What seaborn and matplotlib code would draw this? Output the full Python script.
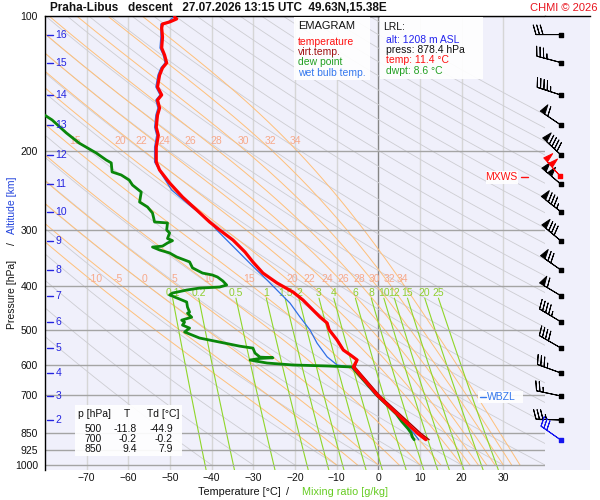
import numpy as np
import matplotlib
matplotlib.use("Agg")
import matplotlib.pyplot as plt
from matplotlib.patches import Rectangle
from matplotlib.lines import Line2D
from matplotlib.ticker import FixedLocator, NullLocator
import seaborn as sns

# sounding: pressure [hPa], temperature [C]
temp_p = [100.5, 101.5, 103.1, 104.2, 106.3, 111.4, 117.8, 122.2, 127.2, 130.5, 135.4, 143.9,
          149.9, 153.9, 160.3, 166.2, 176.9, 184.4, 195.9, 200.9, 211.4, 220.3, 235.4, 253.0,
          270.4, 287.6, 299.6, 315.4, 335.5, 353.1, 373.7, 393.3, 411.8, 429.0, 451.6, 468.2,
          482.8, 500.0, 526.9, 554.6, 568.8, 583.6, 604.9, 700.0, 850.0, 878.4]
temp_t = [-48.9, -48.4, -50.1, -51.8, -52.0, -51.8, -52.0, -51.3, -50.8, -51.8, -52.5, -53.0,
          -52.0, -53.0, -52.5, -53.0, -53.3, -52.8, -53.3, -53.3, -53.3, -52.5, -50.1, -47.0,
          -43.6, -40.5, -38.1, -34.9, -32.0, -30.1, -27.7, -24.3, -20.5, -18.1, -15.7, -14.0,
          -12.3, -11.8, -9.9, -8.4, -6.7, -5.1, -6.0, -0.2, 9.4, 11.4]

virt_p = [411.8, 429.0, 451.6, 468.2, 482.8, 500.0, 526.9, 554.6, 568.8, 583.6, 604.9, 700.0, 850.0, 878.4]
virt_t = [-20.4, -18.0, -15.6, -13.9, -12.2, -11.7, -9.8, -8.3, -6.6, -5.0, -5.6, 0.3, 10.2, 12.2]

dwpt_p = [162.0, 170.4, 182.1, 191.9, 201.9, 209.3, 212.4, 222.5, 226.0, 231.9, 238.0, 246.7,
          259.6, 266.3, 274.6, 287.6, 289.0, 299.6, 304.3, 313.0, 316.5, 320.3, 325.5, 327.0,
          332.0, 337.1, 344.1, 352.9, 363.9, 373.7, 377.5, 381.4, 389.3, 397.4, 401.5, 403.6,
          407.7, 411.8, 414.0, 418.2, 422.5, 433.5, 445.0, 456.7, 459.1, 468.6, 475.8, 480.6,
          488.0, 495.6, 505.6, 521.5, 532.4, 543.6, 549.1, 563.3, 575.1, 577.0, 579.0, 583.8,
          592.8, 598.8, 601.8, 604.9, 620.0, 700.0, 770.0, 800.0, 830.0, 850.0, 865.0, 878.4]
dwpt_t = [-82.0, -78.3, -74.9, -71.8, -67.7, -65.3, -64.1, -63.9, -61.7, -59.8, -59.0, -56.9,
          -57.3, -55.4, -54.2, -53.7, -50.6, -50.8, -50.1, -50.6, -49.4, -50.6, -51.8, -54.2,
          -52.5, -50.1, -48.4, -45.3, -44.6, -42.2, -39.8, -38.6, -37.3, -36.4, -38.1, -42.9,
          -46.0, -48.2, -49.4, -50.1, -48.9, -46.0, -45.8, -45.3, -45.8, -44.8, -47.2, -46.5,
          -47.0, -45.3, -46.5, -42.9, -38.1, -33.3, -30.1, -29.6, -28.4, -25.3, -28.4, -30.8,
          -26.7, -20.5, -12.3, -6.2, -5.3, -0.3, 4.3, 5.6, 7.1, 7.9, 8.1, 8.6]

wetb_p = [100.5, 103.1, 104.2, 111.4, 117.8, 122.2, 127.2, 130.5, 135.4, 143.9, 149.9, 153.9,
          160.3, 166.2, 176.9, 184.4, 195.9, 200.9, 211.4, 223.7, 244.1, 266.3, 284.6, 299.6,
          315.4, 332.0, 349.6, 367.9, 387.4, 414.2, 435.9, 468.2, 500.4, 535.4, 574.2, 598.8,
          604.9, 620.0, 700.0, 770.0, 800.0, 830.0, 850.0, 878.4]
wetb_t = [-49.2, -50.4, -52.2, -52.2, -52.4, -51.6, -51.2, -52.2, -52.9, -53.4, -52.4, -53.4,
          -52.9, -53.4, -53.7, -53.2, -53.7, -53.7, -53.7, -52.2, -49.6, -44.8, -40.8, -38.8,
          -36.4, -34.0, -31.6, -29.2, -26.7, -23.6, -21.2, -18.8, -16.4, -14.7, -12.3, -9.9,
          -6.6, -5.5, -0.6, 4.4, 5.9, 7.5, 8.5, 9.7]

# altitude marks [km] and the pressure they sit at
alt_km = [16, 15, 14, 13, 12, 11, 10, 9, 8, 7, 6, 5, 4, 3, 2]
alt_p = [110, 127, 150, 175, 204, 237, 273, 317, 368, 420, 480, 549, 624, 702, 794]

# winds at the altitude marks (direction deg, speed kt)
wind_dir = [270, 285, 288, 304, 313, 310, 308, 310, 305, 301, 301, 300, 290, 282, 272]
wind_spd = [30, 35, 45, 60, 90, 100, 85, 80, 70, 60, 45, 40, 35, 25, 35]
mxws_p, mxws_dir, mxws_spd = 227, 318, 100
lrl_p, lrl_dir, lrl_spd = 878.4, 305, 30

p_levels = [100, 200, 300, 400, 500, 600, 700, 850, 925, 1000]
t_ticks = [-70, -60, -50, -40, -30, -20, -10, 0, 10, 20, 30]
thw_lines = [-10, -5, 0, 5, 10, 15, 20, 22, 24, 26, 28, 30, 32, 34]
thw_upper = [15, 20, 22, 24, 26, 28, 30, 32, 34]
mix_lines = [0.1, 0.2, 0.5, 1, 1.5, 2, 3, 4, 6, 8, 10, 12, 15, 20, 25]

legend_items = [("temperature", "#ff1010"), ("virt.temp.", "#a01010"),
                ("dew point", "#22a022"), ("wet bulb temp.", "#3377ee")]
table_head = ["p [hPa]", "T", "Td [°C]"]
table_rows = [("500", "-11.8", "-44.9"), ("700", "-0.2", "-0.2"), ("850", "9.4", "7.9")]


def es(tc):
    return 6.112 * np.exp(17.67 * tc / (tc + 243.5))


def dtdp(T, p):
    rs = 0.622 * es(T - 273.15) / (p - es(T - 273.15))
    num = 287.04 * T + 2.501e6 * rs
    den = 1005.7 + 2.501e6 ** 2 * rs * 0.622 / (287.04 * T * T)
    return num / den / p


def pseudo_adiabats(thw, p_end, n):
    ps = np.linspace(1000.0, p_end, n + 1)
    T = np.array(thw, dtype=float) + 273.15
    out = [T.copy()]
    for i in range(n):
        h = ps[i + 1] - ps[i]
        k1 = dtdp(T, ps[i])
        k2 = dtdp(T + h / 2 * k1, ps[i] + h / 2)
        k3 = dtdp(T + h / 2 * k2, ps[i] + h / 2)
        k4 = dtdp(T + h * k3, ps[i + 1])
        T = T + h / 6 * (k1 + 2 * k2 + 2 * k3 + k4)
        out.append(T.copy())
    return ps, np.array(out) - 273.15


def mix_td(w, p):
    e = w * p / (622.0 + w)
    lg = np.log(e / 6.112)
    return 243.5 * lg / (17.67 - lg)


sns.set_theme(style="white")
plt.rcParams['font.family'] = ['Liberation Sans', 'DejaVu Sans']
plt.rcParams['axes.unicode_minus'] = True

W, H = 600.0, 500.0
def fx(x): return x / W
def fy(y): return 1 - y / H

BG = '#f0f0fb'
fig = plt.figure(figsize=(6, 5), dpi=100)
fig.patch.set_facecolor('white')

ax = fig.add_axes([fx(45), fy(470), 500 / W, 454 / H])
ax.set_facecolor(BG)
ax.set_yscale('log')

# grid
for t in range(-70, 40, 10):
    ax.axvline(t, color='#858585' if t == 0 else '#d6d6d6', lw=1, zorder=1)
for p in p_levels:
    ax.axhline(p, color='#a4a4a4', lw=1, zorder=1.6)

# dry adiabats
pp = np.geomspace(100, 1000, 200)
for th in range(-40, 260, 10):
    ax.plot((th + 273.15) * (pp / 1000) ** 0.2857 - 273.15, pp, color='#cdcdd2', lw=0.6, zorder=1.2)

# pseudo-adiabats, labels sit just above the 400 and 200 hPa lines
ps, tw = pseudo_adiabats(thw_lines, 100.0, 450)
for k, th in enumerate(thw_lines):
    ax.plot(tw[:, k], ps, color='#ffc07a', lw=0.7, zorder=1.3)
    x_lab = np.interp(np.log(394.0), np.log(ps[::-1]), tw[::-1, k])
    ax.text(x_lab, 385.0, f"{th}", color='#f7a98a', fontsize=7.5, ha='center', va='center', zorder=1.4)
    if th in thw_upper:
        x_lab = np.interp(np.log(198.0), np.log(ps[::-1]), tw[::-1, k])
        ax.text(x_lab, 190.0, f"{th}", color='#f7a98a', fontsize=7.5, ha='center', va='center', zorder=1.4)

# mixing ratio lines
pm = np.geomspace(425, 1030, 60)
for w in mix_lines:
    ax.plot(mix_td(w, pm), pm, color='#8fd629', lw=0.8, zorder=1.5)
    ax.text(mix_td(w, 425.0), 414.0, f"{w:g}", color='#8fcf2f', fontsize=7.5, ha='center', va='center', zorder=1.5)

# sounding
sns.lineplot(x=wetb_t, y=wetb_p, sort=False, estimator=None, color='#2f6fe6', lw=0.9, ax=ax, zorder=5)
sns.lineplot(x=dwpt_t, y=dwpt_p, sort=False, estimator=None, color='#0a870a', lw=2.0, ax=ax, zorder=6)
sns.lineplot(x=virt_t, y=virt_p, sort=False, estimator=None, color='#a00000', lw=1.0, ax=ax, zorder=6.5)
sns.lineplot(x=temp_t, y=temp_p, sort=False, estimator=None, color='#ff0000', lw=2.3, ax=ax, zorder=7)

ax.set_xlim(-80, 40)
ax.set_ylim(1026, 100)
ax.yaxis.set_major_locator(FixedLocator(p_levels))
ax.yaxis.set_minor_locator(NullLocator())
ax.set_yticklabels([str(p) for p in p_levels])
ax.set_xticks(t_ticks)
ax.set_xticklabels([str(t).replace('-', '\u2212') for t in t_ticks])
ax.tick_params(axis='both', length=0, labelsize=7.5, colors='#111111')
ax.tick_params(axis='y', pad=5)
ax.tick_params(axis='x', pad=2)
ax.set_xlabel('')
ax.set_ylabel('')
for side in ['right', 'bottom']:
    ax.spines[side].set_visible(False)
for side in ['left', 'top']:
    ax.spines[side].set_color('black')
    ax.spines[side].set_linewidth(1)

# altitude marks
ytr = ax.get_yaxis_transform()
for km, p in zip(alt_km, alt_p):
    ax.plot([0.004, 0.016], [p, p], transform=ytr, color='#2424e0', lw=1, zorder=8)
    ax.text(0.021, p, str(km), transform=ytr, color='#2424e0', fontsize=7.5, va='center', ha='left', zorder=8)

# wind barbs
bx = fig.add_axes([fx(545), fy(470), 45 / W, 454 / H], sharey=ax)
bx.set_facecolor(BG)
bx.set_xlim(0, 1)
bx.tick_params(left=False, labelleft=False, bottom=False, labelbottom=False)
for side in ['left', 'right', 'bottom']:
    bx.spines[side].set_visible(False)
bx.spines['top'].set_color('black')
bx.spines['top'].set_linewidth(1)

def uv(d, s):
    d = np.radians(np.array(d, dtype=float))
    s = np.array(s, dtype=float)
    return -s * np.sin(d), -s * np.cos(d)

bxpos = 16 / 45
bsizes = dict(spacing=0.14, height=0.38, width=0.22)
u, v = uv(wind_dir, wind_spd)
bx.barbs(np.full(len(alt_p), bxpos), alt_p, u, v, length=6.0, lw=0.7, color='black',
         sizes=bsizes, clip_on=False, zorder=3)
bx.scatter(np.full(len(alt_p), bxpos), alt_p, marker='s', s=7, color='black', clip_on=False, zorder=4)
u, v = uv([mxws_dir], [mxws_spd])
bx.barbs([bxpos - 0.02], [mxws_p], u, v, length=6.0, lw=0.7, color='red', sizes=bsizes,
         clip_on=False, zorder=5)
bx.scatter([bxpos - 0.02], [mxws_p], marker='s', s=7, color='red', clip_on=False, zorder=5)
u, v = uv([lrl_dir], [lrl_spd])
bx.barbs([bxpos], [lrl_p], u, v, length=6.0, lw=0.7, color='#1515ee', sizes=bsizes,
         clip_on=False, zorder=5)
bx.scatter([bxpos], [lrl_p], marker='s', s=7, color='#1515ee', clip_on=False, zorder=5)

# boxes and texts in pixel positions
def box(x0, y0, x1, y1):
    fig.add_artist(Rectangle((fx(x0), fy(y1)), (x1 - x0) / W, (y1 - y0) / H, transform=fig.transFigure,
                             facecolor='white', edgecolor='none', alpha=0.92, zorder=2))

def txt(x, y, s, color='#111111', size=7.5, **kw):
    fig.text(fx(x), fy(y), s, color=color, fontsize=size, va='center', zorder=3, **kw)

txt(50, 8, "Praha-Libus   descent   27.07.2026 13:15 UTC  49.63N,15.38E", size=8.5, weight='bold')
txt(597, 8, "CHMI © 2026", color='#e8141e', size=8, ha='right')

box(294, 17, 370, 80)
txt(298, 26, "EMAGRAM", size=8)
for i, (name, col) in enumerate(legend_items):
    txt(298, 42 + 10.2 * i, name, color=col)

box(380, 17, 483, 79)
txt(383, 27, "LRL:")
txt(386, 40, "alt: 1208 m ASL", color='#2424ee')
txt(386, 50, "press: 878.4 hPa")
txt(386, 60, "temp: 11.4 °C", color='#ff1010')
txt(386, 71, "dwpt: 8.6 °C", color='#22a022')

box(75, 405, 182, 456)
txt(78, 414, table_head[0])
txt(127, 414, table_head[1], ha='center')
txt(147, 414, table_head[2])
for i, row in enumerate(table_rows):
    for xr, cell in zip([102, 137, 173], row):
        txt(xr, 429 + 10 * i, cell, ha='right')

box(486, 171, 518, 184)
txt(517, 177.5, "MXWS", color='#ff1010', ha='right')
fig.add_artist(Line2D([fx(521), fx(528)], [fy(177), fy(177)], transform=fig.transFigure, color='#ff1010', lw=1, zorder=3))

box(478, 391, 523, 403)
txt(487, 397, "WBZL", color='#3377ee')
fig.add_artist(Line2D([fx(480), fx(486)], [fy(397), fy(397)], transform=fig.transFigure, color='#3377ee', lw=1, zorder=3))

# axis titles
txt(281, 492, "Temperature [°C]", size=7.8, ha='right')
txt(288, 492, "/", size=7.8, ha='center')
txt(302, 492, "Mixing ratio [g/kg]", color='#66cc22', size=7.8, ha='left')
txt(12, 294, "Pressure [hPa]", size=7.5, ha='center', rotation=90)
txt(12, 244, "/", size=7.5, ha='center', rotation=90)
txt(12, 205, "Altitude [km]", color='#2244dd', size=7.5, ha='center', rotation=90)

fig.savefig("out.png", dpi=100)
